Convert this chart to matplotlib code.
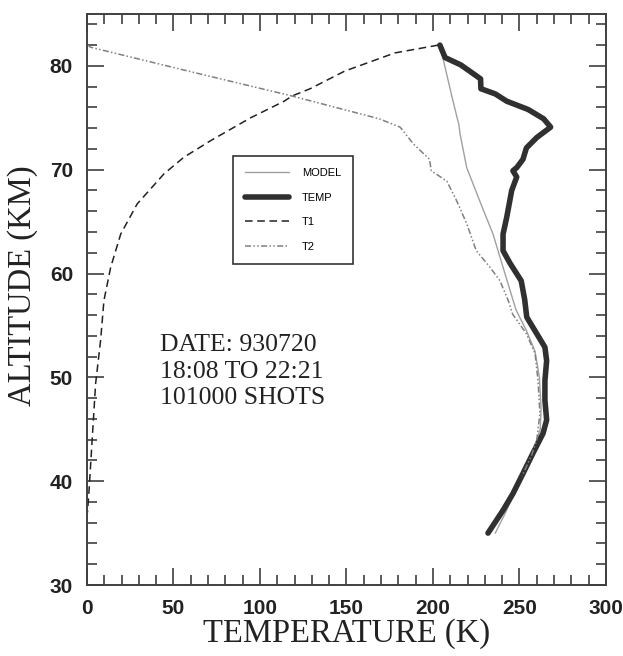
import matplotlib
matplotlib.use("Agg")
import matplotlib.pyplot as plt
from matplotlib.ticker import MultipleLocator

# ---- data ----
temp_alt = [82.0, 80.8, 80.1, 79.4, 78.75, 77.8, 77.3, 76.6, 75.8, 74.9, 74.1, 73.1, 72.1, 71.0,
            70.2, 69.9, 69.3, 68.0, 65.4, 63.8, 62.2, 61.0, 59.3, 57.5, 55.8, 54.2, 52.9, 51.6,
            49.7, 47.8, 45.9, 44.6, 42.7, 40.8, 38.8, 37.2, 35.0]
temp_val = [204, 207, 216, 222, 227.5, 227.7, 236, 242.6, 255, 264, 268, 260, 254, 252,
            248.4, 246.2, 248.4, 245.5, 242.6, 240.5, 240.5, 244.5, 251, 253, 254.2, 260, 264.7, 265.7,
            264.7, 264.7, 265.7, 263.6, 257.8, 252.2, 246.2, 240.5, 231.8]

model_alt = [82.0, 77.0, 74.3, 73.5, 70.2, 67.0, 63.8, 60.6, 58.4, 56.5, 54.5, 52.5, 50.0,
             47.0, 45.0, 43.0, 41.0, 39.0, 37.0, 35.0]
model_val = [204, 211, 215, 215.6, 219.5, 227, 234.7, 240.5, 244.5, 248, 254, 259, 261.5,
             262.5, 262, 258, 253, 247.5, 242, 236]

t1_alt = [82.0, 81.25, 79.5, 77.8, 77.1, 76.6, 75.0, 72.8, 71.2, 69.6, 66.7, 63.8, 60.6,
          57.4, 53.6, 49.4, 44.0, 39.1, 37.0]
t1_val = [203, 178, 149, 129, 118.5, 114, 94.6, 71.5, 56, 44.5, 29, 19.5, 13.7,
          9.8, 7.9, 5, 3, 1.2, 0.3]

t2_alt = [82.0, 81.8, 79.6, 77.1, 74.9, 74.1, 72.5, 71.0, 69.9, 68.9, 67.0, 64.8, 62.2,
          60.6, 59.3, 57.4, 56.1, 54.2, 52.3, 49.7, 46.5, 44.0, 42.5, 40.5]
t2_val = [0.5, 2, 56, 118.5, 169, 181, 188.6, 198, 199, 208, 213.7, 219.5, 225,
          233, 238.7, 243.5, 246, 254, 259, 260.7, 261.8, 260, 257, 251.5]

x_ticks = [0, 50, 100, 150, 200, 250, 300]
y_ticks = [30, 40, 50, 60, 70, 80]
info_lines = ["DATE: 930720", "18:08 TO 22:21", "101000 SHOTS"]

plt.rcParams["font.family"] = ["Liberation Sans", "DejaVu Sans"]
plt.rcParams["font.weight"] = "bold"

# ---- figure ----
fig = plt.figure(figsize=(6.23, 6.56), dpi=100)
ax = fig.add_axes([0.1396, 0.1082, 0.8331, 0.8705])

ax.plot(model_val, model_alt, color="#a0a0a0", lw=1.0, label="MODEL")
ax.plot(temp_val, temp_alt, color="#303030", lw=4.0, label="TEMP", solid_capstyle="round")
ax.plot(t1_val, t1_alt, color="#222222", lw=1.1, ls=(0, (5, 3)), label="T1")
ax.plot(t2_val, t2_alt, color="#808080", lw=1.1, ls=(0, (4, 1.5, 1, 1.5, 1, 1.5)), label="T2")

ax.set_xlim(0, 300)
ax.set_ylim(30, 85)
ax.set_xticks(x_ticks)
ax.set_yticks(y_ticks)
ax.xaxis.set_minor_locator(MultipleLocator(10))
ax.yaxis.set_minor_locator(MultipleLocator(2))
ax.tick_params(which="both", direction="in", top=True, right=True, color="#404040", width=1.2)
ax.tick_params(which="major", length=12, pad=10, labelsize=15, labelcolor="#222222")
ax.tick_params(which="minor", length=7)
for s in ax.spines.values():
    s.set_linewidth(1.4)
    s.set_color("#404040")

ax.set_xlabel("TEMPERATURE (K)", family="Liberation Serif", fontweight="normal",
              fontsize=23.5, color="#222222")
ax.set_ylabel("ALTITUDE (KM)", family="Liberation Serif", fontweight="normal",
              fontsize=23.5, color="#222222")
ax.xaxis.set_label_coords(0.5, -0.058)
ax.yaxis.set_label_coords(-0.094, 0.525)

for i, line in enumerate(info_lines):
    ax.text(42.2, 53.1 - 2.55 * i, line, family="Liberation Serif", fontweight="normal",
            fontsize=18.5, color="#222222", va="center", ha="left")

leg = ax.legend(loc="upper left", bbox_to_anchor=(0.281, 0.751), borderaxespad=0,
                fancybox=False, edgecolor="#333333", framealpha=1,
                prop={"family": "Liberation Sans", "size": 8, "weight": "normal"},
                handlelength=4.0, handletextpad=1.1, labelspacing=1.3,
                borderpad=1.1)
leg.get_frame().set_linewidth(1.2)

fig.savefig("out.png", dpi=100)
